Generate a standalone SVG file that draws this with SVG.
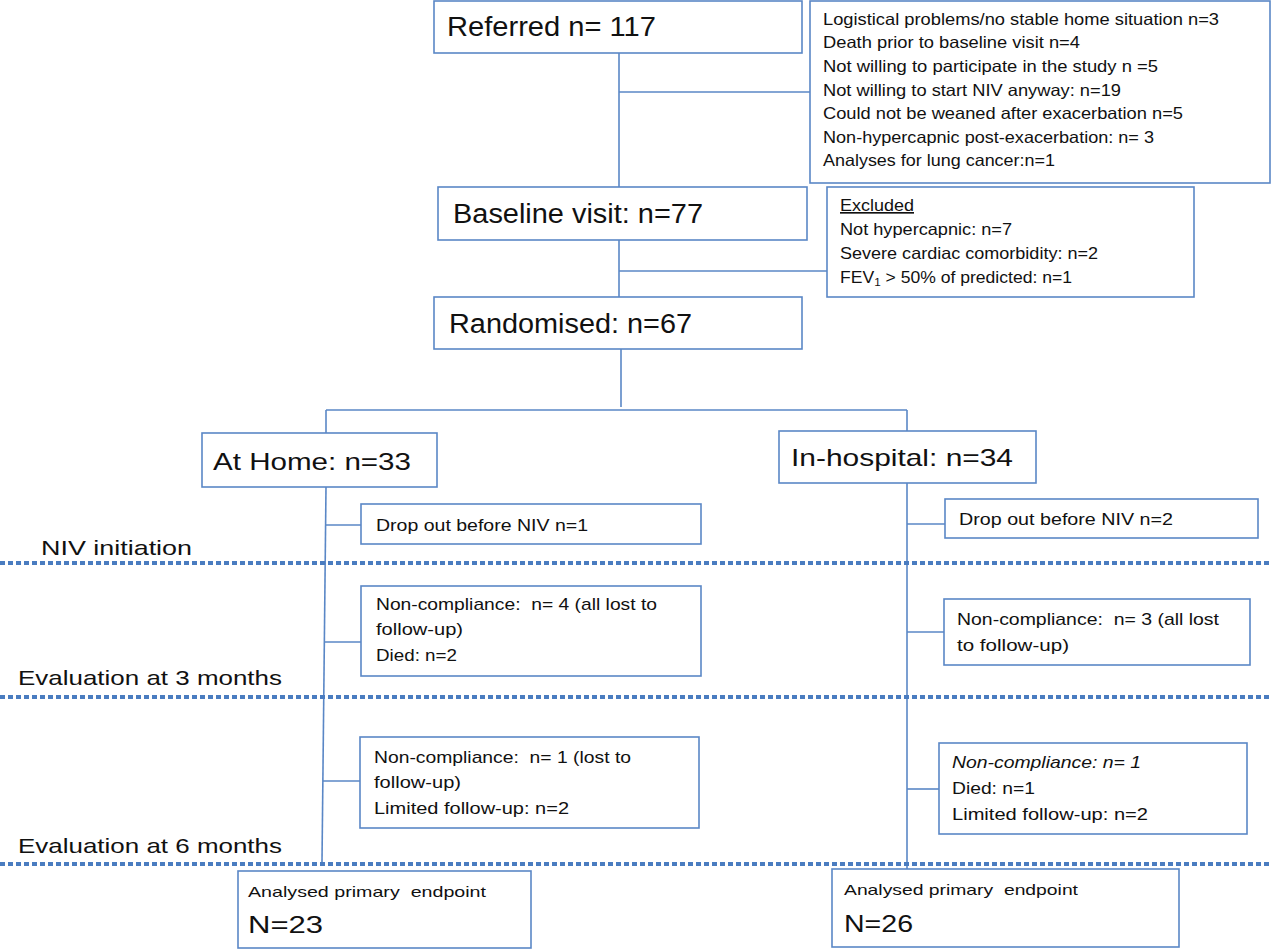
<svg xmlns="http://www.w3.org/2000/svg" width="1280" height="950" viewBox="0 0 1280 950">
<style>
.box{fill:#fff;stroke:#5a87c6;stroke-width:1.6}
.ln{stroke:#5a87c6;stroke-width:1.6;fill:none}
.dot{stroke:#4a7cc0;stroke-width:4;stroke-dasharray:5 3;fill:none}
text{font-family:"Liberation Sans",Arial,sans-serif;fill:#111;white-space:pre}
.t28{font-size:28px}
.t27{font-size:27px}
.t24{font-size:24px}
.t23{font-size:23px}
.t21{font-size:21px}
.t17{font-size:17px}
.t16{font-size:16.5px}
.t14{font-size:14.5px}
</style>
<rect width="1280" height="950" fill="#fff"/>
<g id="connectors">
<line class="ln" x1="619" y1="53" x2="619" y2="187"/>
<line class="ln" x1="619" y1="92" x2="810" y2="92"/>
<line class="ln" x1="619" y1="240" x2="619" y2="297"/>
<line class="ln" x1="619" y1="271" x2="827" y2="271"/>
<line class="ln" x1="621" y1="349" x2="621" y2="407"/>
<line class="ln" x1="326" y1="410" x2="907" y2="410"/>
<line class="ln" x1="326" y1="410" x2="326" y2="433"/>
<line class="ln" x1="907" y1="410" x2="907" y2="431"/>
<line class="ln" x1="326" y1="487" x2="322" y2="862"/>
<line class="ln" x1="325" y1="525" x2="361" y2="525"/>
<line class="ln" x1="324" y1="642" x2="361" y2="642"/>
<line class="ln" x1="323" y1="781" x2="360" y2="781"/>
<line class="ln" x1="907" y1="483" x2="907" y2="869"/>
<line class="ln" x1="907" y1="524" x2="945" y2="524"/>
<line class="ln" x1="907" y1="632" x2="944" y2="632"/>
<line class="ln" x1="907" y1="789" x2="939" y2="789"/>
</g>
<g id="timeline">
<line class="dot" x1="0" y1="563" x2="1272" y2="563"/>
<line class="dot" x1="0" y1="697" x2="1272" y2="697"/>
<line class="dot" x1="0" y1="864" x2="1270" y2="864"/>
<text class="t21" x="41" y="555" textLength="151" lengthAdjust="spacingAndGlyphs">NIV initiation</text>
<text class="t21" x="18" y="685" textLength="264" lengthAdjust="spacingAndGlyphs">Evaluation at 3 months</text>
<text class="t21" x="18" y="853" textLength="264" lengthAdjust="spacingAndGlyphs">Evaluation at 6 months</text>
</g>
<g id="referred">
<rect class="box" x="434" y="1" width="368" height="52"/>
<text class="t28" x="447" y="36" textLength="209" lengthAdjust="spacingAndGlyphs">Referred n= 117</text>
</g>
<g id="excluded1">
<rect class="box" x="810" y="1" width="460" height="182"/>
<text class="t16" x="823" y="25" textLength="396" lengthAdjust="spacingAndGlyphs">Logistical problems/no stable home situation n=3</text>
<text class="t16" x="823" y="48" textLength="257" lengthAdjust="spacingAndGlyphs">Death prior to baseline visit n=4</text>
<text class="t16" x="823" y="72" textLength="335" lengthAdjust="spacingAndGlyphs">Not willing to participate in the study n =5</text>
<text class="t16" x="823" y="96" textLength="298" lengthAdjust="spacingAndGlyphs">Not willing to start NIV anyway: n=19</text>
<text class="t16" x="823" y="119" textLength="360" lengthAdjust="spacingAndGlyphs">Could not be weaned after exacerbation n=5</text>
<text class="t16" x="823" y="143" textLength="331" lengthAdjust="spacingAndGlyphs">Non-hypercapnic post-exacerbation: n= 3</text>
<text class="t16" x="823" y="166" textLength="232" lengthAdjust="spacingAndGlyphs">Analyses for lung cancer:n=1</text>
</g>
<g id="baseline">
<rect class="box" x="438" y="187" width="369" height="53"/>
<text class="t27" x="453" y="223" textLength="250" lengthAdjust="spacingAndGlyphs">Baseline visit: n=77</text>
</g>
<g id="excluded2">
<rect class="box" x="827" y="187" width="367" height="110"/>
<text class="t16" x="840" y="211" textLength="74" lengthAdjust="spacingAndGlyphs" text-decoration="underline">Excluded</text>
<text class="t16" x="840" y="235" textLength="172" lengthAdjust="spacingAndGlyphs">Not hypercapnic: n=7</text>
<text class="t16" x="840" y="259" textLength="258" lengthAdjust="spacingAndGlyphs">Severe cardiac comorbidity: n=2</text>
<text class="t16" x="840" y="283" textLength="232" lengthAdjust="spacingAndGlyphs">FEV<tspan font-size="11" dy="3">1</tspan><tspan dy="-3"> &gt; 50% of predicted: n=1</tspan></text>
</g>
<g id="randomised">
<rect class="box" x="434" y="297" width="368" height="52"/>
<text class="t27" x="449" y="333" textLength="243" lengthAdjust="spacingAndGlyphs">Randomised: n=67</text>
</g>
<g id="athome">
<rect class="box" x="202" y="433" width="235" height="54"/>
<text class="t24" x="213" y="470" textLength="198" lengthAdjust="spacingAndGlyphs">At Home: n=33</text>
</g>
<g id="inhospital">
<rect class="box" x="779" y="431" width="257" height="52"/>
<text class="t24" x="791" y="466" textLength="222" lengthAdjust="spacingAndGlyphs">In-hospital: n=34</text>
</g>
<g id="dropout1">
<rect class="box" x="361" y="504" width="340" height="40"/>
<text class="t17" x="376" y="531" textLength="212" lengthAdjust="spacingAndGlyphs">Drop out before NIV n=1</text>
</g>
<g id="dropout2">
<rect class="box" x="945" y="499" width="313" height="39"/>
<text class="t17" x="959" y="525" textLength="214" lengthAdjust="spacingAndGlyphs">Drop out before NIV n=2</text>
</g>
<g id="home3m">
<rect class="box" x="361" y="586" width="340" height="90"/>
<text class="t17" x="376" y="610" textLength="281" lengthAdjust="spacingAndGlyphs">Non-compliance:  n= 4 (all lost to</text>
<text class="t17" x="376" y="635" textLength="87" lengthAdjust="spacingAndGlyphs">follow-up)</text>
<text class="t17" x="376" y="661" textLength="81" lengthAdjust="spacingAndGlyphs">Died: n=2</text>
</g>
<g id="hosp3m">
<rect class="box" x="944" y="599" width="306" height="66"/>
<text class="t17" x="957" y="625" textLength="262" lengthAdjust="spacingAndGlyphs">Non-compliance:  n= 3 (all lost</text>
<text class="t17" x="957" y="651" textLength="112" lengthAdjust="spacingAndGlyphs">to follow-up)</text>
</g>
<g id="home6m">
<rect class="box" x="360" y="737" width="339" height="91"/>
<text class="t17" x="374" y="763" textLength="257" lengthAdjust="spacingAndGlyphs">Non-compliance:  n= 1 (lost to</text>
<text class="t17" x="374" y="788" textLength="87" lengthAdjust="spacingAndGlyphs">follow-up)</text>
<text class="t17" x="374" y="814" textLength="195" lengthAdjust="spacingAndGlyphs">Limited follow-up: n=2</text>
</g>
<g id="hosp6m">
<rect class="box" x="939" y="743" width="308" height="91"/>
<text class="t17" x="952" y="768" textLength="189" lengthAdjust="spacingAndGlyphs" font-style="italic">Non-compliance: n= 1</text>
<text class="t17" x="952" y="794" textLength="83" lengthAdjust="spacingAndGlyphs">Died: n=1</text>
<text class="t17" x="952" y="820" textLength="196" lengthAdjust="spacingAndGlyphs">Limited follow-up: n=2</text>
</g>
<g id="analysed1">
<rect class="box" x="238" y="871" width="293" height="77"/>
<text class="t14" x="248" y="897" textLength="238" lengthAdjust="spacingAndGlyphs">Analysed primary  endpoint</text>
<text class="t23" x="248" y="933" textLength="75" lengthAdjust="spacingAndGlyphs">N=23</text>
</g>
<g id="analysed2">
<rect class="box" x="832" y="869" width="347" height="78"/>
<text class="t14" x="844" y="895" textLength="234" lengthAdjust="spacingAndGlyphs">Analysed primary  endpoint</text>
<text class="t23" x="844" y="932" textLength="69" lengthAdjust="spacingAndGlyphs">N=26</text>
</g>
</svg>
